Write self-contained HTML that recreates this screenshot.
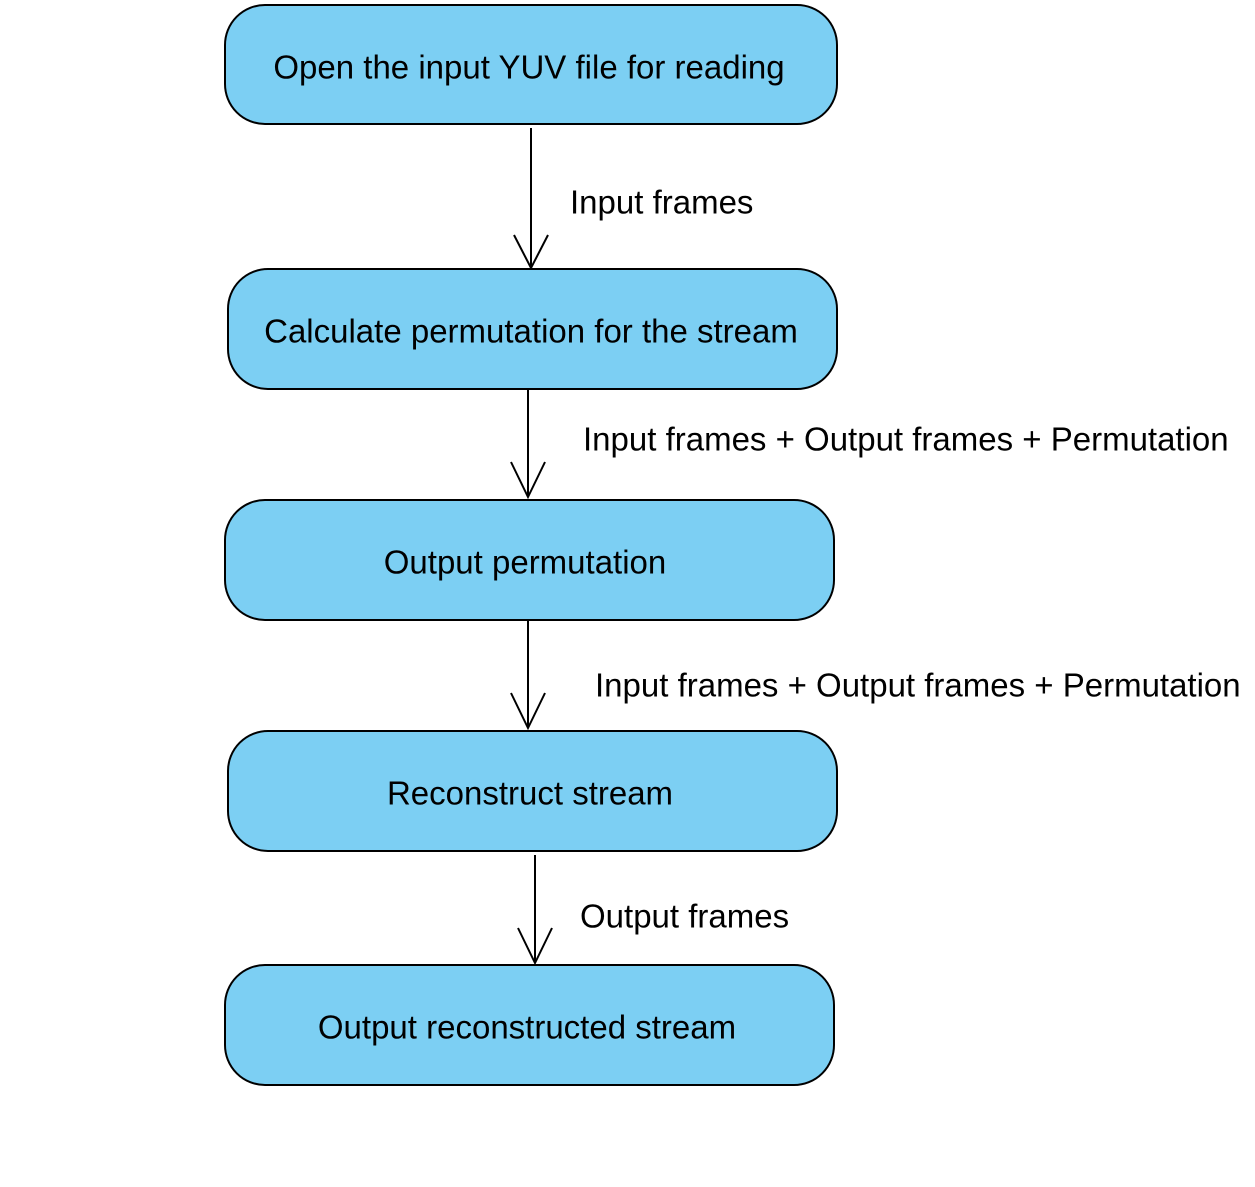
<!DOCTYPE html>
<html><head><meta charset="utf-8"><style>html,body{margin:0;padding:0;background:#fff}</style></head>
<body>
<svg width="1255" height="1182" xmlns="http://www.w3.org/2000/svg" font-family="Liberation Sans, Arial, sans-serif" font-size="33">
<rect width="1255" height="1182" fill="#fff"/>
<g fill="#7ccff3" stroke="#000" stroke-width="2">
<rect x="225" y="5" width="612" height="119" rx="40"/>
<rect x="228" y="269" width="609" height="120" rx="40"/>
<rect x="225" y="500" width="609" height="120" rx="40"/>
<rect x="228" y="731" width="609" height="120" rx="40"/>
<rect x="225" y="965" width="609" height="120" rx="40"/>
</g>
<g stroke="#000" stroke-width="2" fill="none">
<path d="M531 128V268M514 235L531 268L548 235"/>
<path d="M528 389V497M511 462L528 497L545 462"/>
<path d="M528 620V728M511 693L528 728L545 693"/>
<path d="M535 855V963M518 928L535 963L552 928"/>
</g>
<g fill="#000" text-anchor="middle" dominant-baseline="central">
<text x="529" y="67">Open the input YUV file for reading</text>
<text x="531" y="331">Calculate permutation for the stream</text>
<text x="525" y="562">Output permutation</text>
<text x="530" y="793">Reconstruct stream</text>
<text x="527" y="1027">Output reconstructed stream</text>
</g>
<g fill="#000" dominant-baseline="central">
<text x="570" y="202">Input frames</text>
<text x="583" y="439">Input frames + Output frames + Permutation</text>
<text x="595" y="685">Input frames + Output frames + Permutation</text>
<text x="580" y="916">Output frames</text>
</g>
</svg>
</body></html>
